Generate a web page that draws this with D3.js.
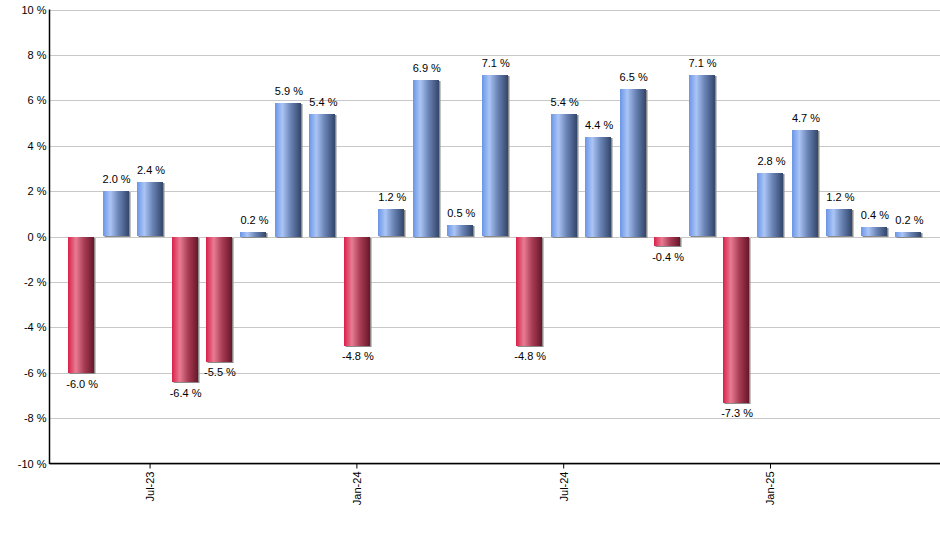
<!DOCTYPE html>
<html>
<head>
<meta charset="utf-8">
<script src="https://cdn.jsdelivr.net/npm/d3@7"></script>
<style>
  body { margin: 0; background: #fff; }
  text { font-family: "Liberation Sans", Arial, sans-serif; }
</style>
</head>
<body>
<div id="chart"></div>
<script>
//-- monthly returns, May-23 .. May-25
const months = ["May-23", "Jun-23", "Jul-23", "Aug-23", "Sep-23", "Oct-23", "Nov-23", "Dec-23",
  "Jan-24", "Feb-24", "Mar-24", "Apr-24", "May-24", "Jun-24", "Jul-24", "Aug-24", "Sep-24",
  "Oct-24", "Nov-24", "Dec-24", "Jan-25", "Feb-25", "Mar-25", "Apr-25", "May-25"];
const returns = [-6.0, 2.0, 2.4, -6.4, -5.5, 0.2, 5.9, 5.4, -4.8, 1.2, 6.9, 0.5, 7.1, -4.8,
  5.4, 4.4, 6.5, -0.4, 7.1, -7.3, 2.8, 4.7, 1.2, 0.4, 0.2];
const xTickLabels = ["Jul-23", "Jan-24", "Jul-24", "Jan-25"];
const yTicks = [-10, -8, -6, -4, -2, 0, 2, 4, 6, 8, 10];

//-- dimensions
const width = 940;
const height = 550;
const margin = { top: 9.5, right: 0, bottom: 86.5, left: 49.5 };

const svg = d3.select("#chart").append("svg")
  .attr("width", width)
  .attr("height", height);

const defs = svg.append("defs");
const grad = (id, stops) => {
  const g = defs.append("linearGradient").attr("id", id)
    .attr("x1", "0%").attr("x2", "100%").attr("y1", "0%").attr("y2", "0%");
  stops.forEach(([o, c]) => g.append("stop").attr("offset", o).attr("stop-color", c));
};
grad("blueGrad", [["0%", "#6a95e6"], ["28%", "#aac5f6"], ["60%", "#6a84b6"], ["100%", "#33466a"]]);
grad("redGrad", [["0%", "#d8204a"], ["30%", "#e87c93"], ["62%", "#a83d55"], ["100%", "#691628"]]);

const x = d3.scaleBand()
  .domain(months)
  .range([margin.left, width - margin.right])
  .paddingInner(0.245)
  .paddingOuter(0.54);

const y = d3.scaleLinear()
  .domain([-10, 10])
  .range([height - margin.bottom, margin.top]);

//-- gridlines
svg.append("g")
  .selectAll("line")
  .data(yTicks)
  .join("line")
  .attr("x1", margin.left)
  .attr("x2", width)
  .attr("y1", (d) => Math.round(y(d)) + 0.5)
  .attr("y2", (d) => Math.round(y(d)) + 0.5)
  .attr("stroke", "#c8c8c8");

//-- bars (shadow first, then gradient)
const bars = svg.append("g").selectAll("g")
  .data(returns)
  .join("g");

const barX = (d, i) => Math.round(x(months[i]));
const barY = (d) => Math.round(y(Math.max(0, d)));
const barH = (d) => Math.max(1, Math.round(Math.abs(y(d) - y(0))));

bars.append("rect")
  .attr("x", (d, i) => barX(d, i) + 1.5)
  .attr("y", (d) => barY(d) + 1)
  .attr("width", Math.round(x.bandwidth()))
  .attr("height", barH)
  .attr("fill", "#8a8a8a");

bars.append("rect")
  .attr("x", barX)
  .attr("y", barY)
  .attr("width", Math.round(x.bandwidth()))
  .attr("height", barH)
  .attr("fill", (d) => (d < 0 ? "url(#redGrad)" : "url(#blueGrad)"));

//-- value labels
bars.append("text")
  .attr("x", (d, i) => x(months[i]) + x.bandwidth() / 2 + 1)
  .attr("y", (d) => (d < 0 ? y(d) + 15 : y(d) - 8))
  .attr("text-anchor", "middle")
  .attr("font-size", 11)
  .attr("fill", "#000")
  .text((d) => d.toFixed(1) + " %");

//-- y axis
svg.append("line")
  .attr("x1", margin.left).attr("x2", margin.left)
  .attr("y1", y(10)).attr("y2", y(-10) + 0.5)
  .attr("stroke", "#000").attr("stroke-width", 1.5);

svg.append("g")
  .selectAll("text")
  .data(yTicks)
  .join("text")
  .attr("x", margin.left - 3)
  .attr("y", (d) => y(d) + 4)
  .attr("text-anchor", "end")
  .attr("font-size", 11)
  .text((d) => d + " %");

//-- x axis
const xAxis = svg.append("g")
  .attr("transform", `translate(0,${y(-10)})`)
  .call(d3.axisBottom(x).tickValues(xTickLabels).tickSize(5).tickSizeOuter(0));
xAxis.select(".domain").attr("stroke", "#000").attr("stroke-width", 1.5)
  .attr("d", `M${margin.left},0H${width}`);
xAxis.selectAll(".tick line").attr("stroke", "#000");
xAxis.selectAll(".tick text")
  .attr("font-family", "'Liberation Sans', Arial, sans-serif")
  .attr("font-size", 11)
  .attr("fill", "#000")
  .attr("transform", "rotate(-90)")
  .attr("text-anchor", "end")
  .attr("x", -8)
  .attr("y", 0)
  .attr("dy", "0.35em");
</script>
</body>
</html>
